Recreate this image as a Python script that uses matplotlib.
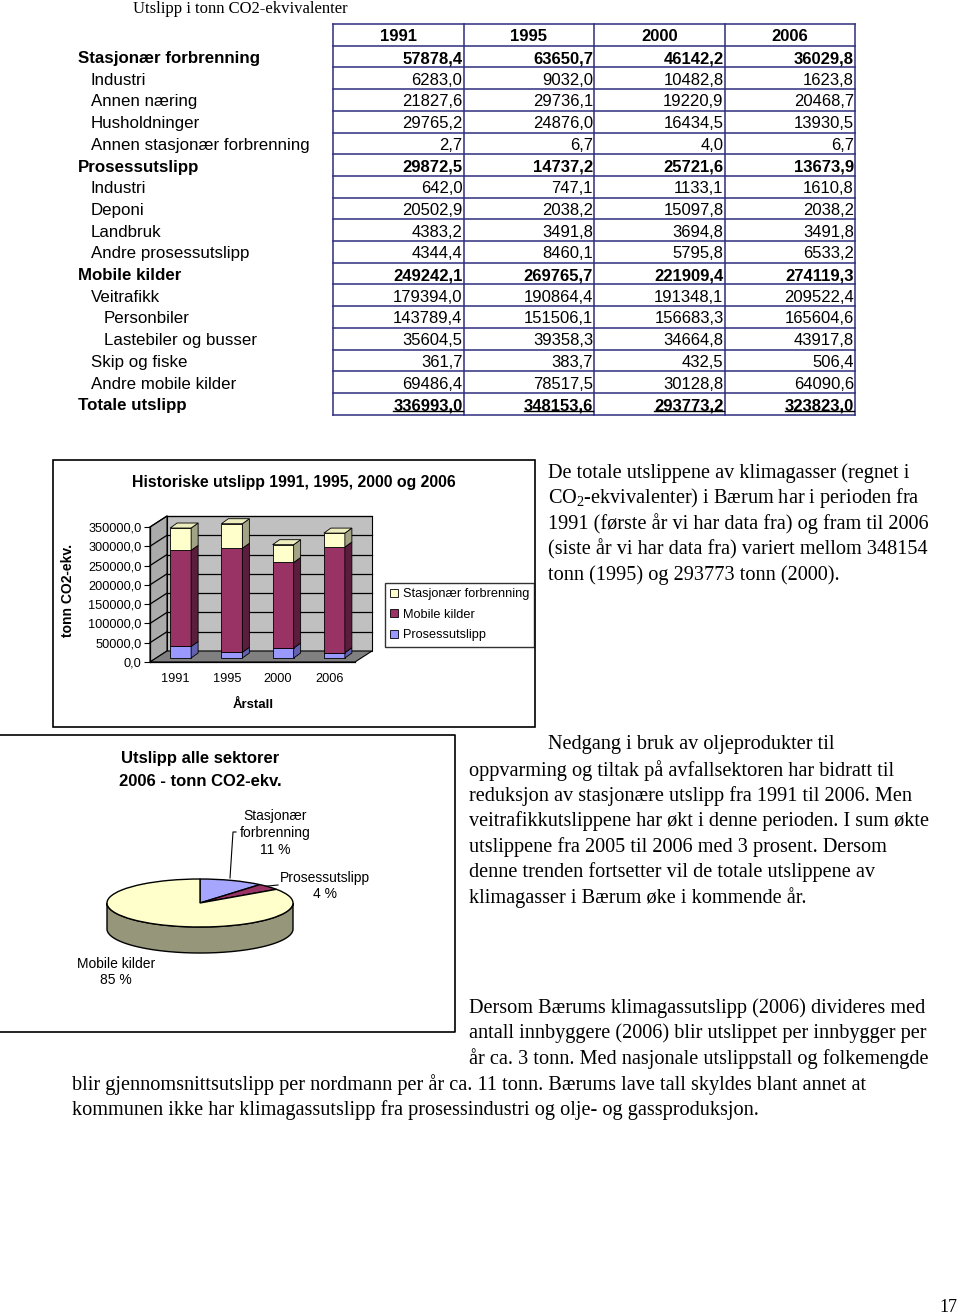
import matplotlib
matplotlib.use("Agg")
import matplotlib.pyplot as plt
from matplotlib.patches import Polygon, Rectangle
from matplotlib.lines import Line2D
from matplotlib.transforms import offset_copy
import numpy as np

plt.rcParams['font.family'] = ['Liberation Sans', 'DejaVu Sans']
plt.rcParams['mathtext.fontset'] = 'custom'
plt.rcParams['mathtext.rm'] = 'Liberation Serif'

# ---------------- data ----------------
years = ['1991', '1995', '2000', '2006']
stasjonaer = [57878.4, 63650.7, 46142.2, 36029.8]
stas_industri = [6283.0, 9032.0, 10482.8, 1623.8]
stas_annen_naering = [21827.6, 29736.1, 19220.9, 20468.7]
stas_husholdninger = [29765.2, 24876.0, 16434.5, 13930.5]
stas_annen = [2.7, 6.7, 4.0, 6.7]
prosess = [29872.5, 14737.2, 25721.6, 13673.9]
pros_industri = [642.0, 747.1, 1133.1, 1610.8]
pros_deponi = [20502.9, 2038.2, 15097.8, 2038.2]
pros_landbruk = [4383.2, 3491.8, 3694.8, 3491.8]
pros_andre = [4344.4, 8460.1, 5795.8, 6533.2]
mobile = [249242.1, 269765.7, 221909.4, 274119.3]
mob_veitrafikk = [179394.0, 190864.4, 191348.1, 209522.4]
mob_personbiler = [143789.4, 151506.1, 156683.3, 165604.6]
mob_lastebiler = [35604.5, 39358.3, 34664.8, 43917.8]
mob_skip = [361.7, 383.7, 432.5, 506.4]
mob_andre = [69486.4, 78517.5, 30128.8, 64090.6]
totale = [336993.0, 348153.6, 293773.2, 323823.0]

series_names = ['Stasjonær forbrenning', 'Mobile kilder', 'Prosessutslipp']
yticks_vals = [0, 50000, 100000, 150000, 200000, 250000, 300000, 350000]

W, H = 960, 1316
fig = plt.figure(figsize=(W / 100, H / 100), dpi=100)
fig.patch.set_facecolor('white')

pg = fig.add_axes([0, 0, 1, 1])
pg.set_xlim(0, W)
pg.set_ylim(H, 0)
pg.axis('off')
pg.set_zorder(0)

DY = 2  # text vertical correction


def rect(x0, y0, x1, y1):
    return [x0 / W, 1 - y1 / H, (x1 - x0) / W, (y1 - y0) / H]


def fmt(v):
    return f"{v:.1f}".replace('.', ',')


def T(x, y, s, **kw):
    kw.setdefault('va', 'center')
    return pg.text(x, y + DY, s, **kw)


serif = ['Liberation Serif', 'DejaVu Serif']

# ---------------- table ----------------
T(133, 7, 'Utslipp i tonn CO2-ekvivalenter', family=serif, fontsize=12)

rows = [
    ('Stasjonær forbrenning', stasjonaer, 0, True),
    ('Industri', stas_industri, 1, False),
    ('Annen næring', stas_annen_naering, 1, False),
    ('Husholdninger', stas_husholdninger, 1, False),
    ('Annen stasjonær forbrenning', stas_annen, 1, False),
    ('Prosessutslipp', prosess, 0, True),
    ('Industri', pros_industri, 1, False),
    ('Deponi', pros_deponi, 1, False),
    ('Landbruk', pros_landbruk, 1, False),
    ('Andre prosessutslipp', pros_andre, 1, False),
    ('Mobile kilder', mobile, 0, True),
    ('Veitrafikk', mob_veitrafikk, 1, False),
    ('Personbiler', mob_personbiler, 2, False),
    ('Lastebiler og busser', mob_lastebiler, 2, False),
    ('Skip og fiske', mob_skip, 1, False),
    ('Andre mobile kilder', mob_andre, 1, False),
    ('Totale utslipp', totale, 0, True),
]

tx0, tcw = 333, 130.5
ty0, rh = 24, 21.7
lc = '#2e2e80'
nrows = len(rows) + 1
for r in range(nrows + 1):
    pg.add_line(Line2D([tx0, tx0 + 4 * tcw], [ty0 + r * rh] * 2, color=lc, lw=1.1))
for c in range(5):
    pg.add_line(Line2D([tx0 + c * tcw] * 2, [ty0, ty0 + nrows * rh], color=lc, lw=1.1))
for c, yr in enumerate(years):
    T(tx0 + (c + 0.5) * tcw, ty0 + 0.5 * rh, yr, ha='center', fontsize=12, fontweight='bold')

underline_texts = []
for r, (lab, vals, lvl, bold) in enumerate(rows):
    yc = ty0 + (r + 1.5) * rh
    T(78 + 13 * lvl, yc, lab, ha='left', fontsize=12.2,
      fontweight='bold' if bold else 'normal')
    for c, v in enumerate(vals):
        t = T(tx0 + (c + 1) * tcw - 1, yc, fmt(v), ha='right', fontsize=12,
              fontweight='bold' if bold else 'normal')
        if lab == 'Totale utslipp':
            underline_texts.append((t, yc))

# ---------------- bar chart ----------------
pg.add_patch(Rectangle((53, 460), 482, 267, fill=False, ec='black', lw=1.2))
T(294, 480, 'Historiske utslipp 1991, 1995, 2000 og 2006', ha='center',
  fontsize=11.4, fontweight='bold')

ax0, ay0, ax1, ay1 = 150, 527, 355, 662
ax = fig.add_axes(rect(ax0, ay0, ax1, ay1))
ax.set_zorder(2)
ax.patch.set_visible(False)
ymax = 350000
ax.set_xlim(-0.5, 3.5)
ax.set_ylim(0, ymax)
pxx = 4 / (ax1 - ax0)
pxy = ymax / (ay1 - ay0)

ddx, ddy = 17 / (ax1 - ax0), 11 / (ay1 - ay0)
kw = dict(transform=ax.transAxes, clip_on=False, ec='black', lw=0.8)
ax.add_patch(Polygon([(ddx, ddy), (1 + ddx, ddy), (1 + ddx, 1 + ddy), (ddx, 1 + ddy)],
                     fc='#C0C0C0', zorder=0, **kw))
ax.add_patch(Polygon([(0, 0), (ddx, ddy), (ddx, 1 + ddy), (0, 1)], fc='#ABABAB', zorder=0, **kw))
ax.add_patch(Polygon([(0, 0), (1, 0), (1 + ddx, ddy), (ddx, ddy)], fc='#808080', zorder=0.5, **kw))
for v in yticks_vals[1:]:
    f = v / ymax
    ax.add_line(Line2D([ddx, 1 + ddx], [f + ddy] * 2, transform=ax.transAxes, color='black',
                       lw=0.9, clip_on=False, zorder=1))
    ax.add_line(Line2D([0, ddx], [f, f + ddy], transform=ax.transAxes, color='black',
                       lw=0.9, clip_on=False, zorder=1))

bar_tr = offset_copy(ax.transData, fig=fig, x=5, y=4, units='dots')
x = np.arange(len(years))
w = 21 / 51.25
bdx, bdy = 7 * pxx, 5 * pxy
stack = [(prosess, '#9999FF', '#6262B0', series_names[2]),
         (mobile, '#993366', '#5A1E3C', series_names[1]),
         (stasjonaer, '#FFFFCC', '#A3A385', series_names[0])]
bottoms = np.zeros(len(years))
handles = {}
for k, (vals, fc, sc, name) in enumerate(stack):
    vals = np.array(vals)
    cont = ax.bar(x, vals, bottom=bottoms, width=w, color=fc, edgecolor='black', lw=0.6,
                  zorder=3, label=name)
    handles[name] = cont
    for p in cont:
        p.set_transform(bar_tr)
        p.set_clip_on(False)
    for i in range(len(years)):
        xr = x[i] + w / 2
        y0, y1 = bottoms[i], bottoms[i] + vals[i]
        ax.add_patch(Polygon([(xr, y0), (xr + bdx, y0 + bdy), (xr + bdx, y1 + bdy), (xr, y1)],
                             transform=bar_tr, fc=sc, ec='black', lw=0.6, zorder=3,
                             clip_on=False))
        if k == len(stack) - 1:
            xl = x[i] - w / 2
            ax.add_patch(Polygon([(xl, y1), (xr, y1), (xr + bdx, y1 + bdy), (xl + bdx, y1 + bdy)],
                                 transform=bar_tr, fc='#EDEDBE', ec='black', lw=0.6, zorder=3,
                                 clip_on=False))
    bottoms = bottoms + vals

ax.set_yticks(yticks_vals)
ax.set_yticklabels([fmt(v) for v in yticks_vals], fontsize=9.2)
ax.set_xticks(x)
ax.set_xticklabels(years, fontsize=9.2)
ax.tick_params(axis='x', length=0, pad=8)
ax.tick_params(axis='y', length=4, width=0.8, pad=2)
for s in ['top', 'right']:
    ax.spines[s].set_visible(False)
for s in ['left', 'bottom']:
    ax.spines[s].set_linewidth(0.9)
    ax.spines[s].set_zorder(2)
ax.set_ylabel('tonn CO2-ekv.', fontsize=10, fontweight='bold')
ax.yaxis.set_label_coords((75 - ax0) / (ax1 - ax0), (ay1 - 590) / (ay1 - ay0))
ax.set_xlabel('Årstall', fontsize=9.5, fontweight='bold')
ax.xaxis.set_label_coords((253 - ax0) / (ax1 - ax0), (ay1 - 699) / (ay1 - ay0))
leg = ax.legend(handles=[handles[n] for n in series_names], labels=series_names,
                loc='upper left', bbox_to_anchor=(385 / W, 1 - 583 / H),
                bbox_transform=fig.transFigure, frameon=True, fancybox=False,
                edgecolor='black', fontsize=9.2, handlelength=0.6, handleheight=0.6,
                handletextpad=0.4, borderpad=0.4, labelspacing=0.68, borderaxespad=0)
leg.get_frame().set_linewidth(1.0)

# ---------------- pie chart ----------------
pg.add_line(Line2D([0, 455, 455, 0], [735, 735, 1032, 1032], color='black', lw=1.2))
T(200, 757, 'Utslipp alle sektorer', ha='center', fontsize=12, fontweight='bold')
T(200, 779, '2006 - tonn CO2-ekv.', ha='center', fontsize=12, fontweight='bold')

pie_vals = [stasjonaer[-1], prosess[-1], mobile[-1]]
pie_names = ['Stasjonær\nforbrenning', 'Prosessutslipp', 'Mobile kilder']
pie_colors = ['#A6A6FF', '#993366', '#FFFFCC']
pax = fig.add_axes(rect(107, 879, 293, 927))
pax.set_zorder(2)
pax.patch.set_visible(False)
th = 26 / 24
t = np.linspace(np.pi, 2 * np.pi, 200)
side = list(zip(np.cos(t), np.sin(t))) + list(zip(np.cos(t[::-1]), np.sin(t[::-1]) - th))
pax.add_patch(Polygon(side, fc='#96967A', ec='black', lw=1.0, zorder=0, clip_on=False))
wedges, _ = pax.pie(pie_vals, colors=pie_colors, startangle=90, counterclock=False,
                    wedgeprops=dict(edgecolor='black', linewidth=1.0))
for wd in wedges:
    wd.set_clip_on(False)
pax.set_aspect('auto')
pax.set_xlim(-1, 1)
pax.set_ylim(-1, 1)
pax.axis('off')

total = sum(pie_vals)
pct = [f"{v / total * 100:.0f} %" for v in pie_vals]
T(275, 831, pie_names[0] + '\n' + pct[0], ha='center', fontsize=10, linespacing=1.25)
T(325, 884, pie_names[1] + '\n' + pct[1], ha='center', fontsize=10, linespacing=1.25)
T(116, 970, pie_names[2] + '\n' + pct[2], ha='center', fontsize=10, linespacing=1.25)
pg.add_line(Line2D([236, 233, 230], [832, 832, 878], color='black', lw=0.8))
pg.add_line(Line2D([278, 258], [885, 887], color='black', lw=0.8))

# ---------------- paragraphs ----------------
fs = 14.6
p1 = ['De totale utslippene av klimagasser (regnet i',
      r'CO$_\mathrm{2}$-ekvivalenter) i Bærum har i perioden fra',
      '1991 (første år vi har data fra) og fram til 2006',
      '(siste år vi har data fra) variert mellom 348154',
      'tonn (1995) og 293773 tonn (2000).']
for i, s in enumerate(p1):
    T(548, 471 + i * 25.5, s, family=serif, fontsize=fs)

p2 = ['Nedgang i bruk av oljeprodukter til',
      'oppvarming og tiltak på avfallsektoren har bidratt til',
      'reduksjon av stasjonære utslipp fra 1991 til 2006. Men',
      'veitrafikkutslippene har økt i denne perioden. I sum økte',
      'utslippene fra 2005 til 2006 med 3 prosent. Dersom',
      'denne trenden fortsetter vil de totale utslippene av',
      'klimagasser i Bærum øke i kommende år.']
for i, s in enumerate(p2):
    T(548 if i == 0 else 469, 743 + i * 25.5, s, family=serif, fontsize=fs)

p3 = ['Dersom Bærums klimagassutslipp (2006) divideres med',
      'antall innbyggere (2006) blir utslippet per innbygger per',
      'år ca. 3 tonn. Med nasjonale utslippstall og folkemengde',
      'blir gjennomsnittsutslipp per nordmann per år ca. 11 tonn. Bærums lave tall skyldes blant annet at',
      'kommunen ikke har klimagassutslipp fra prosessindustri og olje- og gassproduksjon.']
for i, s in enumerate(p3):
    T(469 if i < 3 else 72, 1006 + i * 25.5, s, family=serif, fontsize=fs)

T(948, 1306, '17', family=serif, fontsize=13, ha='center')

# underline for totals
fig.canvas.draw()
inv = pg.transData.inverted()
for tobj, yc in underline_texts:
    bb = tobj.get_window_extent()
    (xa, _), (xb, _) = inv.transform([(bb.x0, bb.y0), (bb.x1, bb.y0)])
    pg.add_line(Line2D([xa, xb], [yc + DY + 5.5, yc + DY + 5.5], color='black', lw=1.0,
                       zorder=5))

fig.savefig('out.png', dpi=100)
